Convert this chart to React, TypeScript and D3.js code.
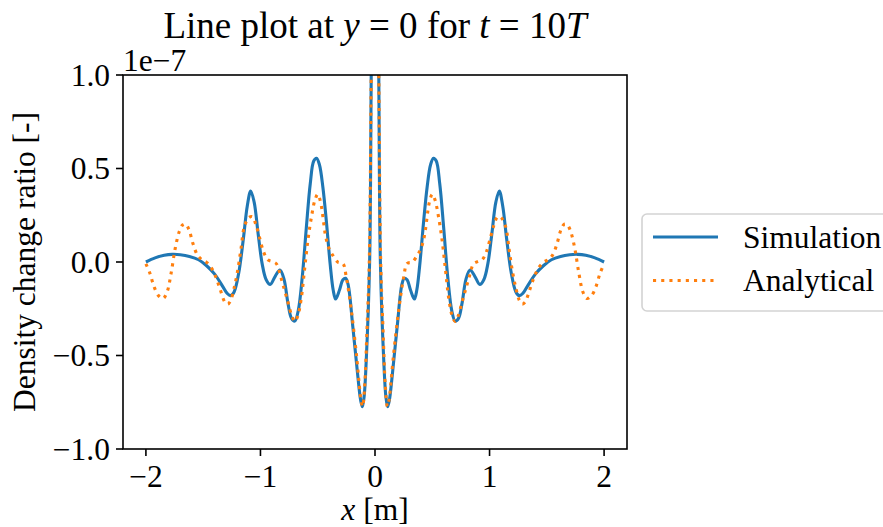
import React from "react";
import * as d3 from "d3";

// Simulation curve: [x (m), density change ratio (×1e-7)]
const simulation: [number, number][] = [
  [-2.0, 0.0], [-1.92, 0.022], [-1.84, 0.036], [-1.77, 0.041], [-1.7, 0.039], [-1.62, 0.03],
  [-1.54, 0.012], [-1.47, -0.02], [-1.4, -0.065], [-1.33, -0.13], [-1.29, -0.168], [-1.26, -0.18],
  [-1.23, -0.16], [-1.19, -0.06], [-1.15, 0.12], [-1.115, 0.3], [-1.085, 0.38], [-1.055, 0.32],
  [-1.02, 0.15], [-0.985, -0.01], [-0.95, -0.095], [-0.915, -0.12], [-0.87, -0.075], [-0.83, -0.043],
  [-0.795, -0.09], [-0.76, -0.22], [-0.73, -0.3], [-0.7, -0.316], [-0.67, -0.26], [-0.635, -0.08],
  [-0.6, 0.18], [-0.565, 0.42], [-0.535, 0.54], [-0.51, 0.555], [-0.485, 0.52], [-0.455, 0.4],
  [-0.425, 0.22], [-0.39, -0.02], [-0.365, -0.15], [-0.344, -0.198], [-0.31, -0.15], [-0.28, -0.095],
  [-0.256, -0.087], [-0.235, -0.12], [-0.193, -0.35], [-0.15, -0.61], [-0.125, -0.74], [-0.11, -0.774],
  [-0.095, -0.72], [-0.076, -0.52], [-0.047, 0.0], [-0.033, 1.0], [-0.017, 2.0], [0.0, 2.6],
  [0.017, 2.0], [0.033, 1.0], [0.047, 0.0], [0.076, -0.52], [0.095, -0.72], [0.11, -0.774],
  [0.125, -0.74], [0.15, -0.61], [0.193, -0.35], [0.235, -0.12], [0.256, -0.087], [0.28, -0.095],
  [0.31, -0.15], [0.344, -0.198], [0.365, -0.15], [0.39, -0.02], [0.425, 0.22], [0.455, 0.4],
  [0.485, 0.52], [0.51, 0.555], [0.535, 0.54], [0.565, 0.42], [0.6, 0.18], [0.635, -0.08],
  [0.67, -0.26], [0.7, -0.316], [0.73, -0.3], [0.76, -0.22], [0.795, -0.09], [0.83, -0.043],
  [0.87, -0.075], [0.915, -0.12], [0.95, -0.095], [0.985, -0.01], [1.02, 0.15], [1.055, 0.32],
  [1.085, 0.38], [1.115, 0.3], [1.15, 0.12], [1.19, -0.06], [1.23, -0.16], [1.26, -0.18],
  [1.29, -0.168], [1.33, -0.13], [1.4, -0.065], [1.47, -0.02], [1.54, 0.012], [1.62, 0.03],
  [1.7, 0.039], [1.77, 0.041], [1.84, 0.036], [1.92, 0.022], [2.0, 0.0],
];

// Analytical curve: [x (m), density change ratio (×1e-7)]
const analytical: [number, number][] = [
  [-2.0, -0.01], [-1.965, -0.06], [-1.93, -0.13], [-1.89, -0.18], [-1.85, -0.195], [-1.815, -0.16],
  [-1.78, -0.06], [-1.745, 0.07], [-1.71, 0.16], [-1.68, 0.198], [-1.655, 0.203], [-1.625, 0.175],
  [-1.59, 0.1], [-1.55, 0.037], [-1.51, 0.012], [-1.47, -0.002], [-1.43, -0.03], [-1.39, -0.08],
  [-1.35, -0.15], [-1.31, -0.215], [-1.285, -0.225], [-1.26, -0.205], [-1.23, -0.14], [-1.2, -0.05],
  [-1.17, 0.07], [-1.14, 0.19], [-1.1, 0.238], [-1.07, 0.242], [-1.04, 0.2], [-1.01, 0.135],
  [-0.97, 0.05], [-0.935, 0.012], [-0.895, 0.002], [-0.86, -0.01], [-0.825, -0.075], [-0.79, -0.15],
  [-0.76, -0.215], [-0.725, -0.29], [-0.7, -0.318], [-0.675, -0.29], [-0.645, -0.2], [-0.615, -0.04],
  [-0.585, 0.12], [-0.555, 0.24], [-0.525, 0.33], [-0.5, 0.362], [-0.475, 0.32], [-0.43, 0.135],
  [-0.4, 0.07], [-0.37, 0.037], [-0.326, 0.0], [-0.28, -0.008], [-0.251, -0.08], [-0.207, -0.257],
  [-0.163, -0.49], [-0.12, -0.747], [-0.108, -0.772], [-0.09, -0.66], [-0.07, -0.36], [-0.05, 0.0],
  [-0.033, 1.0], [-0.016, 2.0], [0.0, 2.6], [0.016, 2.0], [0.033, 1.0], [0.05, 0.0],
  [0.07, -0.36], [0.09, -0.66], [0.108, -0.772], [0.12, -0.747], [0.163, -0.49], [0.207, -0.257],
  [0.251, -0.08], [0.28, -0.008], [0.326, 0.0], [0.37, 0.037], [0.4, 0.07], [0.43, 0.135],
  [0.475, 0.32], [0.5, 0.362], [0.525, 0.33], [0.555, 0.24], [0.585, 0.12], [0.615, -0.04],
  [0.645, -0.2], [0.675, -0.29], [0.7, -0.318], [0.725, -0.29], [0.76, -0.215], [0.79, -0.15],
  [0.825, -0.075], [0.86, -0.01], [0.895, 0.002], [0.935, 0.012], [0.97, 0.05], [1.01, 0.135],
  [1.04, 0.2], [1.07, 0.242], [1.1, 0.238], [1.14, 0.19], [1.17, 0.07], [1.2, -0.05],
  [1.23, -0.14], [1.26, -0.205], [1.285, -0.225], [1.31, -0.215], [1.35, -0.15], [1.39, -0.08],
  [1.43, -0.03], [1.47, -0.002], [1.51, 0.012], [1.55, 0.037], [1.59, 0.1], [1.625, 0.175],
  [1.655, 0.203], [1.68, 0.198], [1.71, 0.16], [1.745, 0.07], [1.78, -0.06], [1.815, -0.16],
  [1.85, -0.195], [1.89, -0.18], [1.93, -0.13], [1.965, -0.06], [2.0, -0.01],
];

const xTicks = [-2, -1, 0, 1, 2];
const yTicks = [-1.0, -0.5, 0.0, 0.5, 1.0];
const seriesNames = ["Simulation", "Analytical"];
const seriesColors = ["#1f77b4", "#ff7f0e"];

const W = 883;
const H = 527;
const M = { left: 123, right: 627, top: 75, bottom: 449 };
const FONT = "'Liberation Serif', 'Times New Roman', serif";
const FS = 31.5;

const fmtY = (v: number) => (v < 0 ? "\u2212" : "") + Math.abs(v).toFixed(1);
const fmtX = (v: number) => (v < 0 ? "\u2212" : "") + Math.abs(v).toString();

export default function App() {
  const x = d3.scaleLinear().domain([-2.2, 2.2]).range([M.left, M.right]);
  const y = d3.scaleLinear().domain([-1, 1]).range([M.bottom, M.top]);
  const line = d3
    .line<[number, number]>()
    .x((d) => x(d[0]))
    .y((d) => y(d[1]))
    .curve(d3.curveCatmullRom.alpha(0.5));

  const lw = 3.1;
  return (
    <svg
      width={W}
      height={H}
      style={{ position: "absolute", left: 0, top: 0, background: "#fff" }}
      fontFamily={FONT}
    >
      <defs>
        <clipPath id="plotclip">
          <rect x={M.left} y={M.top} width={M.right - M.left} height={M.bottom - M.top} />
        </clipPath>
      </defs>
      <rect x={0} y={0} width={W} height={H} fill="#fff" />

      {/* Title */}
      <text x={(M.left + M.right) / 2} y={38} textAnchor="middle" fontSize={37} fill="#000">
        Line plot at <tspan fontStyle="italic">y</tspan>
        <tspan>{" = 0"}</tspan> for <tspan fontStyle="italic">t</tspan>
        <tspan>{" = 10"}</tspan>
        <tspan fontStyle="italic">T</tspan>
      </text>

      {/* Lines */}
      <g clipPath="url(#plotclip)">
        <path d={line(simulation) || ""} fill="none" stroke={seriesColors[0]} strokeWidth={lw} strokeLinejoin="round" strokeLinecap="butt" />
        <path d={line(analytical) || ""} fill="none" stroke={seriesColors[1]} strokeWidth={lw} strokeDasharray="3.1,5.1" strokeLinecap="butt" />
      </g>

      {/* Frame */}
      <rect x={M.left} y={M.top} width={M.right - M.left} height={M.bottom - M.top} fill="none" stroke="#000" strokeWidth={1.6} />

      {/* X ticks */}
      {xTicks.map((t) => (
        <g key={"x" + t}>
          <line x1={x(t)} x2={x(t)} y1={M.bottom} y2={M.bottom + 7} stroke="#000" strokeWidth={1.6} />
          <text x={x(t)} y={487} textAnchor="middle" fontSize={FS} fill="#000">
            {fmtX(t)}
          </text>
        </g>
      ))}
      {/* Y ticks */}
      {yTicks.map((t) => (
        <g key={"y" + t}>
          <line x1={M.left - 7} x2={M.left} y1={y(t)} y2={y(t)} stroke="#000" strokeWidth={1.6} />
          <text x={110} y={y(t)} dy="0.34em" textAnchor="end" fontSize={FS} fill="#000">
            {fmtY(t)}
          </text>
        </g>
      ))}

      {/* Offset text */}
      <text x={M.left} y={71} fontSize={FS} fill="#000">
        1e{"\u2212"}7
      </text>

      {/* Axis labels */}
      <text x={(M.left + M.right) / 2} y={520} textAnchor="middle" fontSize={FS} fill="#000">
        <tspan fontStyle="italic">x</tspan> [m]
      </text>
      <text
        transform={`translate(35, ${(M.top + M.bottom) / 2}) rotate(-90)`}
        textAnchor="middle"
        fontSize={FS}
        fill="#000"
      >
        Density change ratio [-]
      </text>

      {/* Legend */}
      <g>
        <rect x={642} y={214} width={250} height={97} rx={5} fill="#fff" fillOpacity={0.8} stroke="#d3d3d3" strokeWidth={1.6} />
        {seriesNames.map((name, i) => {
          const ly = 237 + i * 43.5;
          return (
            <g key={name}>
              <line
                x1={653}
                x2={718}
                y1={ly}
                y2={ly}
                stroke={seriesColors[i]}
                strokeWidth={lw}
                strokeDasharray={i === 1 ? "3.1,5.1" : undefined}
              />
              <text x={743} y={ly} dy="0.34em" fontSize={FS} fill="#000">
                {name}
              </text>
            </g>
          );
        })}
      </g>
    </svg>
  );
}
